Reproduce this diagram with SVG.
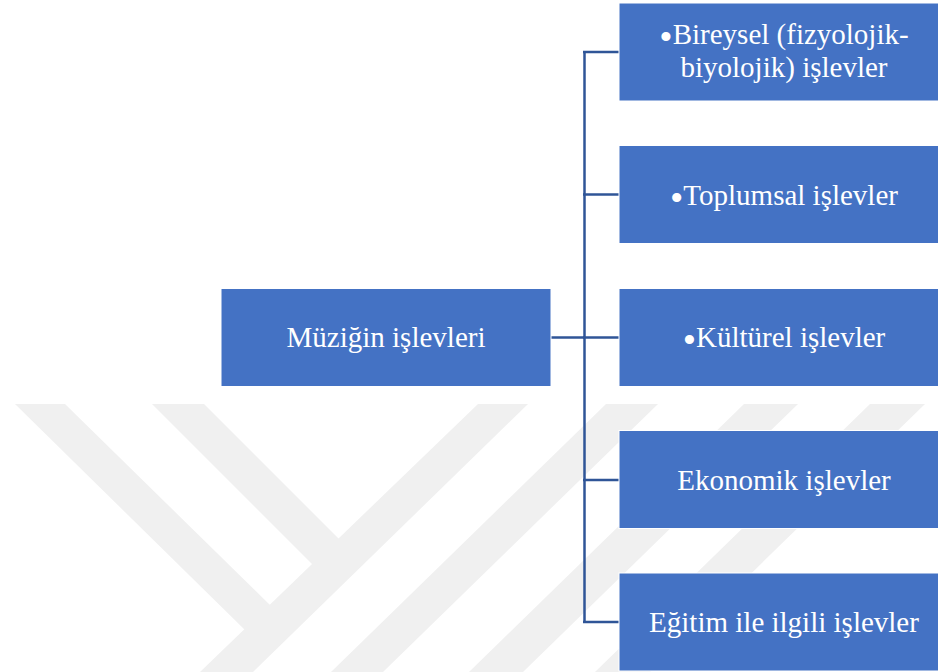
<svg xmlns="http://www.w3.org/2000/svg" width="938" height="672" viewBox="0 0 938 672">
<style>
.bg{fill:#ffffff}
.wm{fill:#f0f0f0}
.box{fill:#4472c4;stroke:#ffffff;stroke-width:1}
.lbl{font-family:'Liberation Serif','Times New Roman',serif;font-size:29px;fill:#ffffff;text-anchor:middle}
.blt{font-size:38px}
.con{fill:none;stroke:#2f5597;stroke-width:2.5}
</style>
<rect class="bg" x="0" y="0" width="938" height="672"/>
<g id="watermark">
<polygon class="wm" points="15,404 65,404 271,606 246,631"/>
<polygon class="wm" points="152,404 204,404 339,539 313,565"/>
<polygon class="wm" points="478,404 528,404 253,672 200,672"/>
<polygon class="wm" points="606,404 658,404 383,672 331,672"/>
<polygon class="wm" points="744,404 798,404 523,672 469,672"/>
<polygon class="wm" points="870,404 925,404 650,672 595,672"/>
</g>
<g id="connectors">
<line class="con" x1="551" y1="337.5" x2="584.5" y2="337.5"/>
<line class="con" x1="584.5" y1="51" x2="584.5" y2="623"/>
<line class="con" x1="583" y1="52" x2="619" y2="52"/>
<line class="con" x1="583" y1="194.5" x2="619" y2="194.5"/>
<line class="con" x1="583" y1="337.5" x2="619" y2="337.5"/>
<line class="con" x1="583" y1="480" x2="619" y2="480"/>
<line class="con" x1="583" y1="622" x2="619" y2="622"/>
</g>
<g id="root">
<rect class="box" x="221" y="288.5" width="330" height="98"/>
<text class="lbl" x="386" y="347">Müziğin işlevleri</text>
</g>
<g id="n1">
<rect class="box" x="619" y="3" width="330" height="98"/>
<text class="lbl" x="784" y="43.5"><tspan class="blt" dy="6">•</tspan><tspan dy="-6">Bireysel (fizyolojik-</tspan></text>
<text class="lbl" x="784" y="76.5">biyolojik) işlevler</text>
</g>
<g id="n2">
<rect class="box" x="619" y="145.5" width="330" height="98"/>
<text class="lbl" x="784" y="205"><tspan class="blt" dy="6">•</tspan><tspan dy="-6">Toplumsal işlevler</tspan></text>
</g>
<g id="n3">
<rect class="box" x="619" y="288.5" width="330" height="98"/>
<text class="lbl" x="784" y="347"><tspan class="blt" dy="6">•</tspan><tspan dy="-6">Kültürel işlevler</tspan></text>
</g>
<g id="n4">
<rect class="box" x="619" y="430.5" width="330" height="98"/>
<text class="lbl" x="784" y="489.5">Ekonomik işlevler</text>
</g>
<g id="n5">
<rect class="box" x="619" y="573" width="330" height="98"/>
<text class="lbl" x="784" y="632">Eğitim ile ilgili işlevler</text>
</g>
</svg>
